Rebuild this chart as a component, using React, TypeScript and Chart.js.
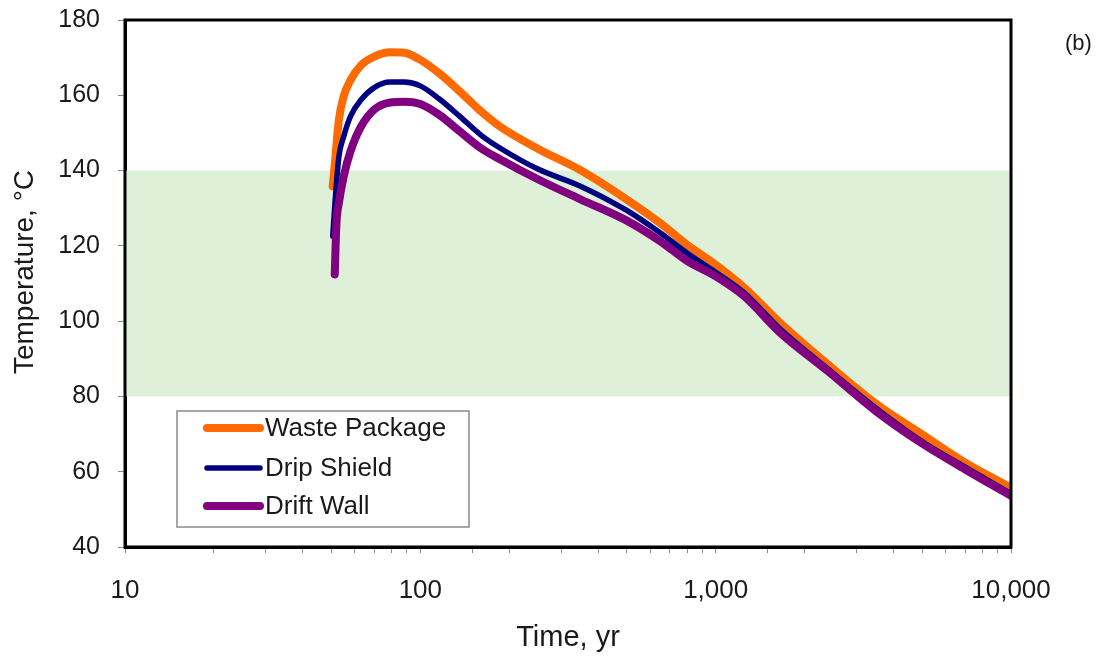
import React, { useEffect, useRef } from "react";
import { Chart, registerables } from "chart.js";

Chart.register(...registerables);

// ---- data ----
const SERIES_NAMES = ["Waste Package", "Drip Shield", "Drift Wall"];
const SERIES_COLORS = ["#ff6a00", "#000080", "#800080"];

const wasteTimes = [50.5, 51.5, 53, 55, 58, 63, 70, 79, 88, 100, 116, 136, 160, 186, 250, 350, 500, 650, 800, 1000, 1250, 1650, 2400, 3500, 5000, 7000, 10000];
const wasteTemps = [135.8, 143, 153.5, 159.7, 164, 168, 170.3, 171.4, 171.3, 169.4, 165.8, 161, 155.8, 151.7, 145.8, 140, 132.3, 126, 120.3, 115, 108.9, 99.6, 88.5, 78, 69.9, 62.4, 55.8];

const shieldTimes = [50.5, 51.5, 53, 55, 58, 63, 70, 79, 88, 100, 116, 136, 160, 186, 250, 350, 500, 650, 800, 1000, 1250, 1650, 2400, 3500, 5000, 7000, 10000];
const shieldTemps = [122.5, 132.3, 143.7, 149, 154.4, 158.8, 162.1, 163.5, 163.5, 162.5, 159, 154.4, 149.5, 146, 140.4, 135.8, 129.4, 123.4, 118.1, 113, 107.5, 98, 87.3, 76.8, 68, 61.2, 54.2];

const wallTimes = [51.3, 52, 53, 55, 58, 63, 70, 79, 88, 100, 116, 136, 160, 186, 250, 350, 500, 650, 800, 1000, 1250, 1650, 2400, 3500, 5000, 7000, 10000];
const wallTemps = [112.4, 126, 131.4, 138.4, 145.1, 151.7, 156.3, 158.1, 158.3, 157.7, 154.8, 150.4, 146, 143, 137.7, 132.3, 126.7, 121.2, 116, 111.9, 106.6, 97, 86.7, 76, 67.5, 60.6, 53.6];

const X_MIN = 10;
const X_MAX = 10000;
const Y_MIN = 40;
const Y_MAX = 180;
const Y_STEP = 20;
const BAND = [80, 140];

const X_TITLE = "Time, yr";
const Y_TITLE = "Temperature, °C";
const PANEL_LABEL = "(b)";

const FONT = "'Liberation Sans', Arial, sans-serif";
const TEXT_COLOR = "#1a1a1a";

const toPoints = (ts: number[], vs: number[]) => ts.map((t, i) => ({ x: t, y: vs[i] }));

export default function App() {
  const canvasRef = useRef<HTMLCanvasElement | null>(null);

  useEffect(() => {
    const canvas = canvasRef.current;
    if (!canvas) return;

    const decorPlugin = {
      id: "decor",
      beforeDatasetsDraw(chart: any) {
        const { ctx, chartArea, scales } = chart;
        const y1 = scales.y.getPixelForValue(BAND[1]);
        const y2 = scales.y.getPixelForValue(BAND[0]);
        ctx.save();
        ctx.fillStyle = "#dff0d9";
        ctx.fillRect(chartArea.left, y1, chartArea.right - chartArea.left, y2 - y1);
        ctx.restore();
      },
      afterDatasetsDraw(chart: any) {
        const { ctx, chartArea } = chart;
        // frame
        ctx.save();
        ctx.strokeStyle = "#000";
        ctx.lineWidth = 3;
        ctx.strokeRect(chartArea.left, chartArea.top, chartArea.right - chartArea.left, chartArea.bottom - chartArea.top);
        ctx.restore();

        // legend box
        const bx = 177, by = 411, bw = 292, bh = 116;
        ctx.save();
        ctx.fillStyle = "#ffffff";
        ctx.fillRect(bx, by, bw, bh);
        ctx.strokeStyle = "#8a8a8a";
        ctx.lineWidth = 1.5;
        ctx.strokeRect(bx, by, bw, bh);
        const rows = [428, 468, 506];
        const widths = [8, 5.5, 8];
        ctx.font = `26px ${FONT}`;
        ctx.textBaseline = "middle";
        ctx.fillStyle = TEXT_COLOR;
        SERIES_NAMES.forEach((name, i) => {
          ctx.strokeStyle = SERIES_COLORS[i];
          ctx.lineWidth = widths[i];
          ctx.lineCap = "round";
          ctx.beginPath();
          ctx.moveTo(207, rows[i]);
          ctx.lineTo(260, rows[i]);
          ctx.stroke();
          ctx.fillText(name, 265, rows[i] + 1);
        });
        ctx.restore();
      },
      afterDraw(chart: any) {
        const { ctx } = chart;
        ctx.save();
        ctx.fillStyle = TEXT_COLOR;
        ctx.font = `28px ${FONT}`;
        ctx.textAlign = "center";
        ctx.textBaseline = "middle";
        ctx.translate(25, 272);
        ctx.rotate(-Math.PI / 2);
        ctx.fillText(Y_TITLE, 0, 0);
        ctx.restore();

        ctx.save();
        ctx.fillStyle = TEXT_COLOR;
        ctx.font = `22px ${FONT}`;
        ctx.textAlign = "left";
        ctx.textBaseline = "alphabetic";
        ctx.fillText(PANEL_LABEL, 1065, 50);
        ctx.restore();
      },
    };

    const chart = new Chart(canvas, {
      type: "line",
      data: {
        datasets: [
          {
            label: SERIES_NAMES[0],
            data: toPoints(wasteTimes, wasteTemps),
            borderColor: SERIES_COLORS[0],
            backgroundColor: SERIES_COLORS[0],
            borderWidth: 8,
            pointRadius: 0,
            cubicInterpolationMode: "monotone",
            borderCapStyle: "round",
            borderJoinStyle: "round",
            order: 2,
          },
          {
            label: SERIES_NAMES[1],
            data: toPoints(shieldTimes, shieldTemps),
            borderColor: SERIES_COLORS[1],
            backgroundColor: SERIES_COLORS[1],
            borderWidth: 5.5,
            pointRadius: 0,
            cubicInterpolationMode: "monotone",
            borderCapStyle: "round",
            borderJoinStyle: "round",
            order: 1,
          },
          {
            label: SERIES_NAMES[2],
            data: toPoints(wallTimes, wallTemps),
            borderColor: SERIES_COLORS[2],
            backgroundColor: SERIES_COLORS[2],
            borderWidth: 8,
            pointRadius: 0,
            cubicInterpolationMode: "monotone",
            borderCapStyle: "round",
            borderJoinStyle: "round",
            order: 0,
          },
        ],
      },
      options: {
        animation: false,
        responsive: false,
        devicePixelRatio: 1,
        layout: { padding: { left: 0, right: 96, top: 20, bottom: 0 } },
        plugins: {
          legend: { display: false },
          tooltip: { enabled: false },
        },
        scales: {
          x: {
            type: "logarithmic",
            min: X_MIN,
            max: X_MAX,
            afterFit: (scale: any) => {
              scale.height = 113;
              scale.paddingLeft = 0;
              scale.paddingRight = 0;
            },
            grid: {
              drawOnChartArea: false,
              drawTicks: true,
              tickLength: 6,
              color: "#8a8a8a",
              lineWidth: 1,
            },
            border: { display: true, color: "#000", width: 3 },
            ticks: {
              autoSkip: false,
              maxRotation: 0,
              minRotation: 0,
              padding: 22,
              color: TEXT_COLOR,
              font: { family: FONT, size: 26 },
              callback: (value: any) => {
                const v = Number(value);
                const l = Math.log10(v);
                if (Math.abs(l - Math.round(l)) < 1e-9) return v.toLocaleString("en-US");
                return "";
              },
            },
            title: {
              display: true,
              text: X_TITLE,
              color: TEXT_COLOR,
              font: { family: FONT, size: 29 },
              padding: { top: 0, bottom: 5 },
            },
          },
          y: {
            type: "linear",
            min: Y_MIN,
            max: Y_MAX,
            afterFit: (scale: any) => {
              scale.width = 125;
              scale.paddingTop = 0;
              scale.paddingBottom = 0;
            },
            grid: {
              drawOnChartArea: false,
              drawTicks: true,
              tickLength: 7,
              color: "#8a8a8a",
              lineWidth: 1,
            },
            border: { display: true, color: "#000", width: 3 },
            ticks: {
              stepSize: Y_STEP,
              padding: 18,
              color: TEXT_COLOR,
              font: { family: FONT, size: 25 },
            },
          },
        },
      },
      plugins: [decorPlugin],
    } as any);

    return () => chart.destroy();
  }, []);

  return (
    <div style={{ position: "fixed", left: 0, top: 0, width: 1107, height: 660, background: "#fff" }}>
      <canvas ref={canvasRef} width={1107} height={660} style={{ display: "block", width: 1107, height: 660 }} />
    </div>
  );
}
